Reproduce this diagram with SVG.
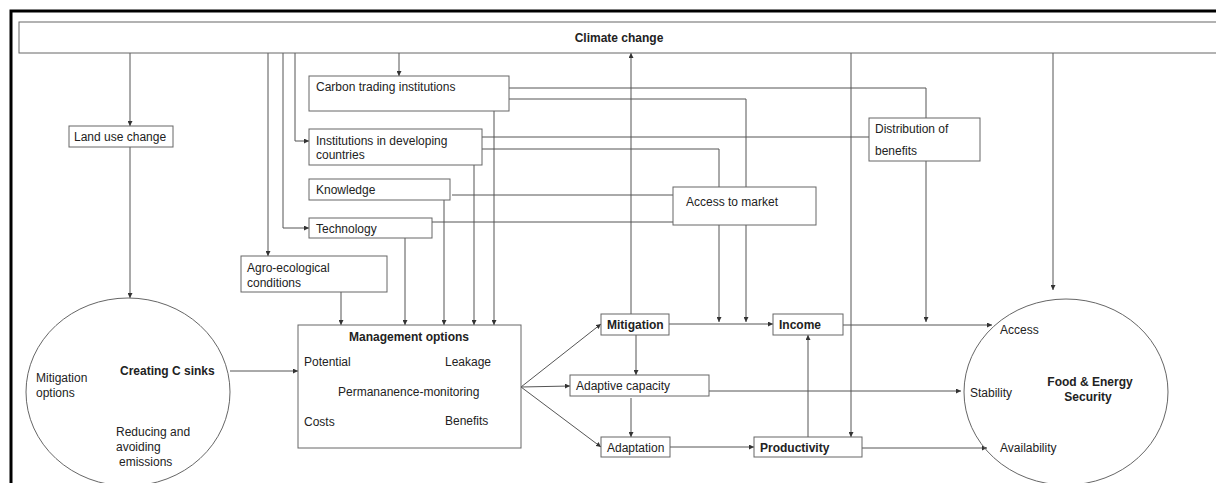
<svg xmlns="http://www.w3.org/2000/svg" width="1216" height="483" viewBox="0 0 1216 483">
<defs>
<marker id="ah" viewBox="0 0 8 8" refX="8" refY="4" markerWidth="5" markerHeight="5" orient="auto" markerUnits="userSpaceOnUse"><path d="M0,0 L8,4 L0,8 z" fill="#333"/></marker>
<style>
.bx{fill:#fff;stroke:#666;stroke-width:1}
.ln{fill:none;stroke:#555;stroke-width:1}
.a{marker-end:url(#ah)}
text{font-family:"Liberation Sans",Arial,sans-serif;font-size:12px;fill:#222}
.b{font-weight:bold}
.c{text-anchor:middle}
</style>
</defs>
<rect width="1216" height="483" fill="#fff"/>
<path d="M11,483 V11 H1216" fill="none" stroke="#000" stroke-width="3"/>

<g id="connectors">
<path class="ln a" d="M130,53 V126"/>
<path class="ln a" d="M130,147 V298"/>
<path class="ln a" d="M268,53 V256" stroke="#888" stroke-width="1.5"/>
<path class="ln a" d="M283,53 V228 H309"/>
<path class="ln a" d="M295,53 V141 H309"/>
<path class="ln a" d="M399,53 V76"/>
<path class="ln a" d="M631,314 V53"/>
<path class="ln a" d="M851,53 V437"/>
<path class="ln a" d="M1053,53 V290"/>
<path class="ln" d="M509,88 H926 V118"/>
<path class="ln a" d="M926,161 V322"/>
<path class="ln" d="M509,99 H746 V187"/>
<path class="ln a" d="M746,225 V322"/>
<path class="ln" d="M482,137 H869"/>
<path class="ln" d="M482,149 H719 V187"/>
<path class="ln a" d="M719,225 V322"/>
<path class="ln" d="M452,195 H673"/>
<path class="ln" d="M432,222 H673"/>
<path class="ln a" d="M341,292 V325"/>
<path class="ln a" d="M405,238 V325"/>
<path class="ln a" d="M444,200 V325"/>
<path class="ln a" d="M474,165 V325"/>
<path class="ln a" d="M494,111 V325"/>
<path class="ln a" d="M230,371 H298"/>
<path class="ln a" d="M521,387 L601,324"/>
<path class="ln a" d="M521,387 L570,386"/>
<path class="ln a" d="M521,387 L601,447"/>
<path class="ln a" d="M636,335 V375"/>
<path class="ln a" d="M631,398 V437"/>
<path class="ln a" d="M669,324 H773"/>
<path class="ln a" d="M670,447 H754"/>
<path class="ln a" d="M808,437 V335"/>
<path class="ln a" d="M843,325 H992"/>
<path class="ln a" d="M709,391 H961"/>
<path class="ln a" d="M862,448 H987"/>
</g>

<g id="climate-change"><rect class="bx" x="19" y="22" width="1205" height="31"/><text class="b c" x="619" y="42">Climate change</text></g>
<g id="land-use-change"><rect class="bx" x="69" y="126" width="104" height="21"/><text x="74" y="141">Land use change</text></g>
<g id="carbon-trading"><rect class="bx" x="309" y="76" width="200" height="35"/><text x="316" y="91">Carbon trading institutions</text></g>
<g id="institutions"><rect class="bx" x="309" y="129" width="173" height="36"/><text x="316" y="145">Institutions in developing</text><text x="316" y="159">countries</text></g>
<g id="knowledge"><rect class="bx" x="309" y="179" width="141" height="21"/><text x="316" y="194">Knowledge</text></g>
<g id="technology"><rect class="bx" x="309" y="218" width="123" height="20"/><text x="316" y="233">Technology</text></g>
<g id="agro"><rect class="bx" x="241" y="256" width="146" height="36"/><text x="247" y="272">Agro-ecological</text><text x="247" y="287">conditions</text></g>
<g id="distribution"><rect class="bx" x="869" y="118" width="111" height="43"/><text x="875" y="133">Distribution of</text><text x="875" y="155">benefits</text></g>
<g id="access-to-market"><rect class="bx" x="673" y="187" width="143" height="38"/><text x="686" y="206">Access to market</text></g>
<g id="management"><rect class="bx" x="298" y="325" width="223" height="123"/>
<text class="b c" x="409" y="341">Management options</text>
<text x="304" y="366">Potential</text><text x="445" y="366">Leakage</text>
<text x="338" y="396">Permananence-monitoring</text>
<text x="304" y="426">Costs</text><text x="445" y="425">Benefits</text></g>
<g id="mitigation"><rect class="bx" x="601" y="314" width="68" height="21"/><text class="b" x="607" y="329">Mitigation</text></g>
<g id="adaptive-capacity"><rect class="bx" x="570" y="375" width="139" height="21"/><text x="576" y="390">Adaptive capacity</text></g>
<g id="adaptation"><rect class="bx" x="601" y="437" width="69" height="20"/><text x="607" y="452">Adaptation</text></g>
<g id="income"><rect class="bx" x="773" y="314" width="70" height="21"/><text class="b" x="779" y="329">Income</text></g>
<g id="productivity"><rect class="bx" x="754" y="437" width="108" height="20"/><text class="b" x="760" y="452">Productivity</text></g>
<g id="c-sinks"><ellipse cx="128" cy="392" rx="102" ry="94" fill="none" stroke="#666"/>
<text class="b" x="120" y="375">Creating C sinks</text>
<text x="36" y="382">Mitigation</text><text x="36" y="397">options</text>
<text x="116" y="436">Reducing and</text><text x="116" y="451">avoiding</text><text x="119" y="466">emissions</text></g>
<g id="food-energy"><ellipse cx="1066" cy="392" rx="102" ry="93" fill="none" stroke="#666"/>
<text x="1000" y="334">Access</text><text x="970" y="397">Stability</text><text x="1000" y="452">Availability</text>
<text class="b c" x="1090" y="386">Food &amp; Energy</text><text class="b c" x="1088" y="401">Security</text></g>
</svg>
